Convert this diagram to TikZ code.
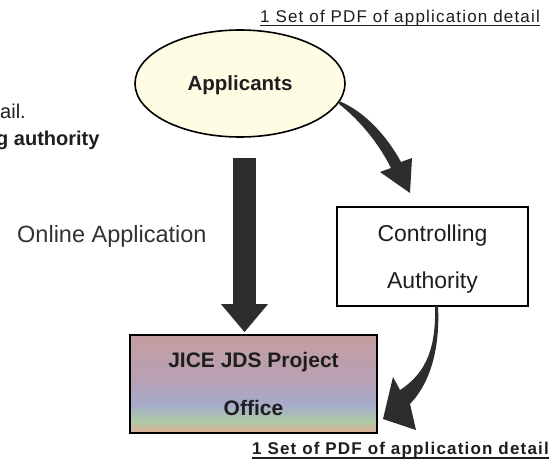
\documentclass[tikz,border=0pt]{standalone}
\usepackage{fontspec}
\setmainfont{Liberation Sans}
\newfontfamily\titlefont[LetterSpace=7]{Liberation Sans}
\newfontfamily\botfont[LetterSpace=7]{Liberation Sans}
\usetikzlibrary{arrows.meta,shapes.geometric,calc}
\definecolor{ellfill}{RGB}{255,252,228}
\definecolor{arrowgray}{RGB}{45,45,45}
\definecolor{textgray}{RGB}{30,30,30}
\definecolor{lightgray}{RGB}{50,50,50}
\definecolor{jtop}{RGB}{196,158,160}
\definecolor{jmauve}{RGB}{184,160,180}
\definecolor{jblue}{RGB}{166,170,204}
\definecolor{jgreen}{RGB}{172,202,166}
\definecolor{jbot}{RGB}{216,180,156}
\pgfdeclareverticalshading{jiceshade}{100bp}{color(0bp)=(jbot); color(26.5bp)=(jbot); color(31bp)=(jgreen); color(40bp)=(jblue); color(52bp)=(jmauve); color(75bp)=(jtop); color(100bp)=(jtop)}
\tikzset{
  plaintext/.style={anchor=base west, inner sep=0pt},
  boxnode/.style={draw, line width=1.6pt, rectangle, align=center, text depth=0pt, inner sep=0pt},
  bigarrow/.style={draw=arrowgray, line width=23pt, -{Triangle[length=28pt,width=45pt]}},
  curvearrow/.style={fill=arrowgray}
}
\begin{document}
\begin{tikzpicture}[x=1pt,y=-1pt]
\clip (0,0) rectangle (559,468);
\fill[white] (0,0) rectangle (559,468);

% cut-off text at the left
\node[plaintext, font=\fontsize{20}{24}\selectfont, text=textgray] (ail) at (0,118) {ail.};
\node[plaintext, font=\bfseries\fontsize{20}{24}\selectfont, text=textgray] (gauth) at (-4,145) {g authority};

% top label
\node[plaintext, font=\titlefont\fontsize{17}{20}\selectfont, text=textgray] (t1) at (260,23) {1 Set of PDF of application detail};
\draw[line width=1.2pt, textgray] ([yshift=-2.5pt]t1.base west) -- ([yshift=-2.5pt]t1.base east);

% nodes
\node[ellipse, draw, line width=1.6pt, fill=ellfill, minimum width=210pt, minimum height=107pt,
      font=\bfseries\fontsize{20.5}{24}\selectfont, text depth=0pt, text=textgray] (app) at (240,83.5) {Applicants};

\node[boxnode, fill=white, minimum width=191pt, minimum height=99pt,
      font=\fontsize{23}{47}\selectfont, text=textgray] (ctrl) at (432.5,256.5) {Controlling\\Authority};

\node[boxnode, shade, shading=jiceshade, minimum width=247pt, minimum height=98pt,
      font=\bfseries\fontsize{21}{48.4}\selectfont, text=textgray] (jice) at (253.5,384) {JICE JDS Project\\Office};

% online application label
\node[plaintext, font=\fontsize{23.5}{27}\selectfont, text=lightgray] (ol) at (17,242) {Online Application};

% big straight arrow
\coordinate (bs) at (244.5,158);
\draw[bigarrow, shorten >=2pt] (bs) -- (bs |- jice.north);

% curved arrow: Applicants -> Controlling Authority
\fill[curvearrow] (339,101) .. controls (366,112) and (388,138) .. (401,162) -- (412,158) -- (410,193) -- (380,172) -- (391,168) .. controls (380,146) and (362,122) .. (339,104) -- cycle;

% curved arrow: Controlling Authority -> JICE
\fill[curvearrow] (435,306) .. controls (436,345) and (428,372) .. (400,390) -- (393,377) -- (383,419) -- (416,430) -- (410,404) .. controls (432,381) and (440,345) .. (438,306) -- cycle;

% bottom label
\node[plaintext, font=\botfont\bfseries\fontsize{17}{20}\selectfont, text=textgray] (t2) at (252,454) {1 Set of PDF of application detail};
\draw[line width=1.6pt, textgray] ([yshift=-4pt]t2.base west) -- ([yshift=-4pt]t2.base east);
\end{tikzpicture}
\end{document}
